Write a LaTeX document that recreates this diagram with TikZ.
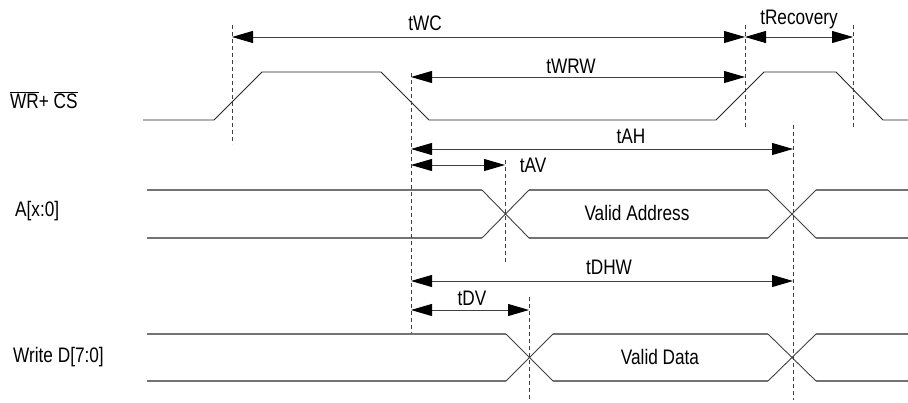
\documentclass[tikz,border=0pt]{standalone}
\usepackage{fontspec}
\setmainfont{Liberation Sans}[FakeStretch=0.82]
\usetikzlibrary{arrows.meta}
\begin{document}
\begin{tikzpicture}[x=1pt,y=-1pt,
  sig/.style={line width=0.9pt,black!85},
  bus/.style={line width=1.1pt,black!55},
  xbus/.style={line width=0.9pt,black!75},
  guide/.style={line width=0.9pt,black!75,dash pattern=on 4pt off 3pt},
  dim/.style={line width=0.9pt,black!75,{Triangle[length=21pt,width=12pt,black]}-{Triangle[length=21pt,width=12pt,black]}},
  lbl/.style={font=\fontsize{21}{24}\selectfont,inner sep=0pt,anchor=base},
  sname/.style={lbl,anchor=base west}]
\useasboundingbox (0,0) rectangle (908,402);
% signal names
\node[sname] (nwr) at (10,108) {$\overline{\mbox{WR}}$+ $\overline{\mbox{CS}}$};
\node[sname] (na) at (15,216) {A[x:0]};
\node[sname] (nd) at (13,362) {Write D[7:0]};
% WR+CS waveform
\draw[sig] (143,120) -- (214,120) -- (262,72) -- (381,72) -- (429,120) -- (716,120) -- (764,72) -- (836,72) -- (883,120) -- (908,120);
% A bus
\draw[bus] (147,190) -- (482,190) (529,190) -- (768,190) (816,190) -- (908,190);
\draw[bus] (147,238) -- (482,238) (529,238) -- (768,238) (816,238) -- (908,238);
\draw[xbus] (482,190) -- (529,238) (482,238) -- (529,190);
\draw[xbus] (768,190) -- (816,238) (768,238) -- (816,190);
\node[lbl] (va) at (637,220) {Valid Address};
% D bus
\draw[bus] (147,334) -- (506,334) (553,334) -- (768,334) (816,334) -- (908,334);
\draw[bus] (147,381) -- (506,381) (553,381) -- (768,381) (816,381) -- (908,381);
\draw[xbus] (506,334) -- (553,381) (506,381) -- (553,334);
\draw[xbus] (768,334) -- (816,381) (768,381) -- (816,334);
\node[lbl] (vd) at (660,364) {Valid Data};
% guide lines
\coordinate (g1t) at (232,25);  \coordinate (g1b) at (232,144);
\coordinate (g2t) at (411,73);  \coordinate (g2b) at (411,333);
\coordinate (g3t) at (745,25);  \coordinate (g3b) at (745,127);
\coordinate (g4t) at (853,25);  \coordinate (g4b) at (853,127);
\coordinate (g5t) at (793,125); \coordinate (g5b) at (793,400);
\coordinate (g6t) at (505,160); \coordinate (g6b) at (505,262);
\coordinate (g7t) at (529,297); \coordinate (g7b) at (529,400);
\foreach \g in {1,...,7} \draw[guide] (g\g t) -- (g\g b);
% dimension arrows
\coordinate (wc1) at (232,37); \coordinate (wc2) at (745,37);
\draw[dim] (wc1) -- (wc2);
\node[lbl] (twc) at (425,30) {tWC};
\coordinate (rc1) at (745,37); \coordinate (rc2) at (853,37);
\draw[dim] (rc1) -- (rc2);
\node[lbl] (trec) at (799,24) {tRecovery};
\coordinate (wr1) at (411,77); \coordinate (wr2) at (745,77);
\draw[dim] (wr1) -- (wr2);
\node[lbl] (twrw) at (571,73) {tWRW};
\coordinate (ah1) at (411,149); \coordinate (ah2) at (793,149);
\draw[dim] (ah1) -- (ah2);
\node[lbl] (tah) at (631,143) {tAH};
\coordinate (av1) at (411,165); \coordinate (av2) at (505,165);
\draw[dim] (av1) -- (av2);
\node[lbl] (tav) at (533,172) {tAV};
\coordinate (dh1) at (411,281); \coordinate (dh2) at (793,281);
\draw[dim] (dh1) -- (dh2);
\node[lbl] (tdhw) at (609,274) {tDHW};
\coordinate (dv1) at (411,310); \coordinate (dv2) at (529,310);
\draw[dim] (dv1) -- (dv2);
\node[lbl] (tdv) at (472,305) {tDV};
\end{tikzpicture}
\end{document}
